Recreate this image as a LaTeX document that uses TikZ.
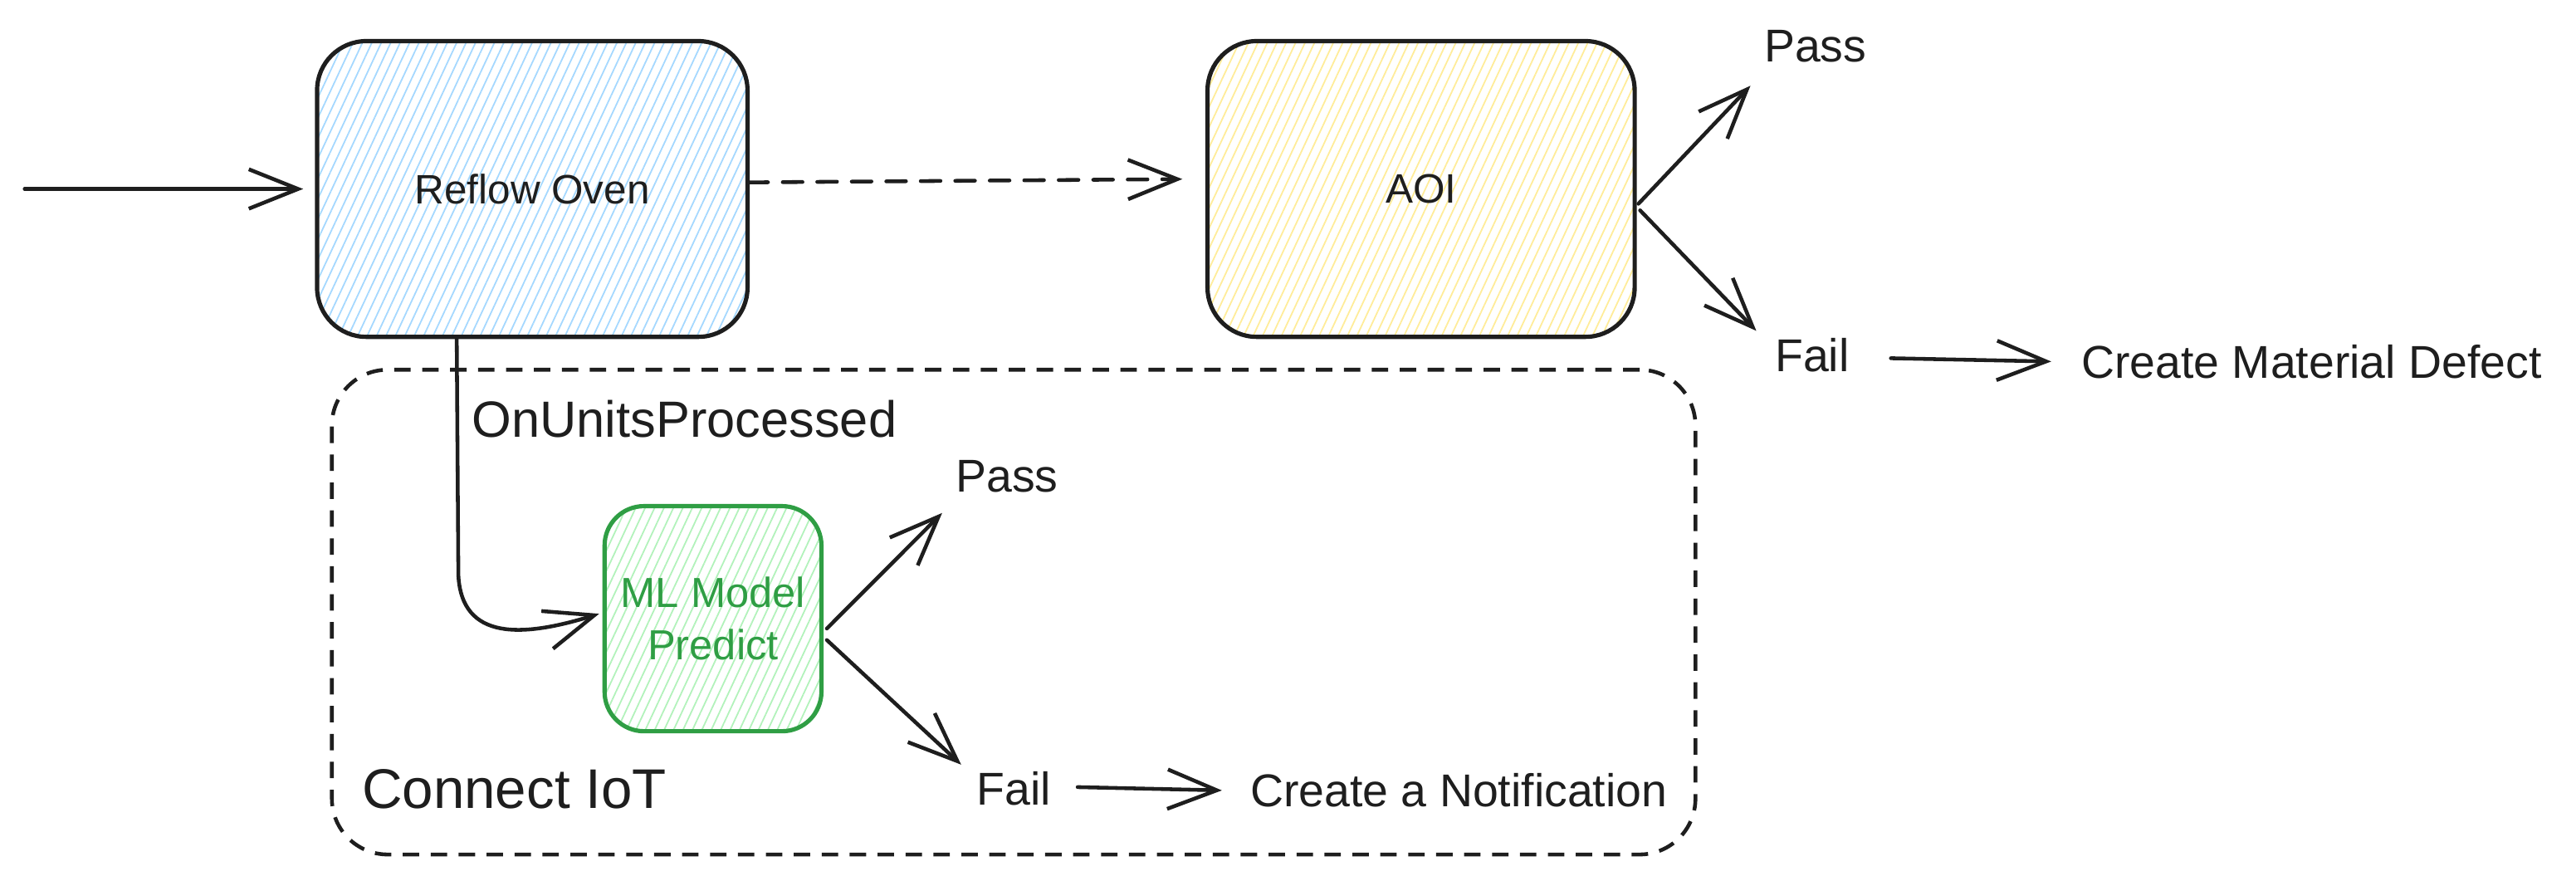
\documentclass[tikz,border=0pt]{standalone}
\usepackage{fontspec}
\setmainfont{Liberation Sans}
\usetikzlibrary{arrows.meta,patterns.meta,calc}
\definecolor{ink}{HTML}{1E1E1E}
\definecolor{bluehatch}{HTML}{A5D8FF}
\definecolor{yellowhatch}{HTML}{FFEC99}
\definecolor{greenhatch}{HTML}{B2F2BB}
\definecolor{greenink}{HTML}{2F9E44}
\begin{document}
\begin{tikzpicture}[x=0.5pt,y=-0.5pt,
  box/.style={draw=ink, line width=1.3pt, rounded corners=15pt, inner sep=0pt, align=center,
    font=\fontsize{12.5}{15}\selectfont, text=ink},
  hatch/.style={pattern={Lines[angle=65,distance=2.6pt,line width=0.45pt]}, pattern color=#1},
  arr/.style={draw=ink, line width=1.15pt, line cap=round,
    -{Straight Barb[length=15pt,width=12pt,line width=1.15pt]}},
  lbl/.style={text=ink, font=\fontsize{14}{16}\selectfont, inner sep=0pt},
  biglbl/.style={text=ink, font=\fontsize{15.5}{18}\selectfont, inner sep=0pt},
]
\useasboundingbox (0,0) rectangle (1568,536);

% container
\node[draw=ink, line width=1.15pt, dash pattern=on 5pt off 3.5pt, rounded corners=17pt,
      minimum width=415pt, minimum height=147.5pt, inner sep=0pt] (iot) at (617,372.5) {};

% boxes
\node[box, hatch=bluehatch, minimum width=131pt, minimum height=90pt] (reflow) at (324,115) {Reflow Oven};
\node[box, hatch=yellowhatch, minimum width=130pt, minimum height=90pt] (aoi) at (865,115) {AOI};
\node[box, draw=greenink, text=greenink, hatch=greenhatch, rounded corners=12pt,
      minimum width=66pt, minimum height=68.5pt, font=\fontsize{12.8}{16}\selectfont] (ml) at (434,376.5) {ML Model\\Predict};

% labels
\node[lbl] (pass1) at (1105,28) {Pass};
\node[lbl] (fail1) at (1103,216) {Fail};
\node[lbl] (defect) at (1407,220) {Create Material Defect};
\node[biglbl, anchor=west] (onunits) at (287,255) {OnUnitsProcessed};
\node[biglbl, anchor=west, font=\fontsize{17}{19}\selectfont] (connect) at (220,480) {Connect IoT};
\node[lbl] (pass2) at (613,290) {Pass};
\node[lbl] (fail2) at (617,480) {Fail};
\node[lbl] (notif) at (888,481) {Create a Notification};

\coordinate (in) at (15,115);

% connectors
\draw[arr] (in) -- ($(reflow.west)+(-8,0)$);
\draw[arr, dash pattern=on 6pt off 4.5pt] ($(reflow.east)+(0,-4)$) -- ($(aoi.west)+(-14,-6)$);
\draw[arr] ($(aoi.east)+(1,9)$) -- ($(pass1.south west)+(-8,14)$);
\draw[arr] ($(aoi.east)+(2,13)$) -- ($(fail1.north west)+(-11,-4)$);
\draw[arr] ($(fail1.east)+(25,2)$) -- ($(defect.west)+(-18,0)$);

\draw[arr] ($(reflow.south)+(-46,0)$) -- (279,350) .. controls (281,390) and (318,388) .. ($(ml.west)+(-2,-3)$);
\draw[arr] ($(ml.east)+(2,6)$) -- ($(pass2.south west)+(-8,12)$);
\draw[arr] ($(ml.east)+(2,13)$) -- ($(fail2.north west)+(-9,-4)$);
\draw[arr] ($(fail2.east)+(16,-1)$) -- ($(notif.west)+(-17,0)$);
\end{tikzpicture}
\end{document}
